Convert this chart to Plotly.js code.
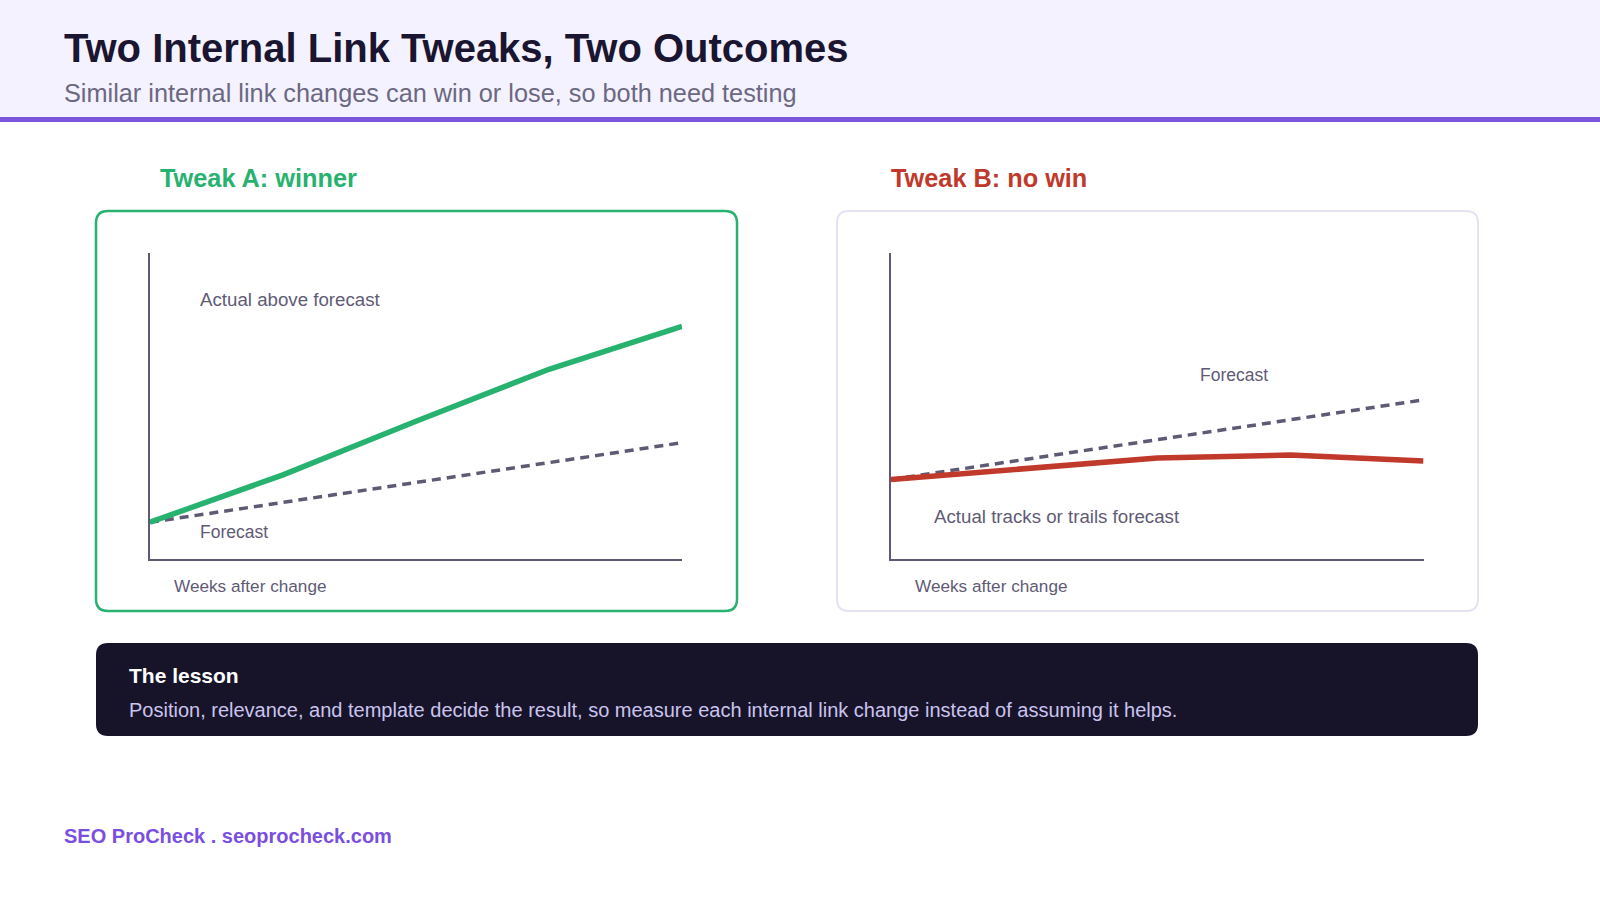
<!DOCTYPE html>
<html>
<head>
<meta charset="utf-8">
<script src="https://cdn.plot.ly/plotly-3.0.1.min.js"></script>
<style>
  html, body { margin: 0; padding: 0; background: #ffffff; }
  #chart { width: 1600px; height: 900px; }
</style>
</head>
<body>
<div id="chart"></div>
<script>
// ---- Data ----
const weeks = [0, 1, 2, 3, 4];
const tweakAForecast = [12, 18.5, 25, 31.5, 38];
const tweakAActual   = [12, 27.5, 45, 62, 76];
const tweakBForecast = [26, 32.5, 39, 45.5, 52];
const tweakBActual   = [26, 29.5, 33, 34, 32];

const chartTitle = "Two Internal Link Tweaks, Two Outcomes";
const chartSubtitle = "Similar internal link changes can win or lose, so both need testing";
const panelTitles = ["Tweak A: winner", "Tweak B: no win"];
const xAxisLabel = "Weeks after change";
const noteA = "Actual above forecast";
const noteB = "Actual tracks or trails forecast";
const forecastLabel = "Forecast";
const lessonTitle = "The lesson";
const lessonText = "Position, relevance, and template decide the result, so measure each internal link change instead of assuming it helps.";
const footerText = "SEO ProCheck . seoprocheck.com";

// ---- Styling ----
const W = 1600, H = 900;
const FONT = '"Liberation Sans", Arial, Helvetica, sans-serif';
const GREEN = '#27b26f';
const RED = '#c0392b';
const FORECAST = '#5e5a74';
const AXIS = '#5e5a72';
const MUTED = '#5f5b75';
const PURPLE = '#7b55de';

const px = x => x / W;
const py = y => 1 - y / H;

function roundedRect(x0, y0, x1, y1, r) {
  const X = v => px(v).toFixed(5), Y = v => py(v).toFixed(5);
  return 'M' + X(x0 + r) + ',' + Y(y0) +
    ' L' + X(x1 - r) + ',' + Y(y0) +
    ' Q' + X(x1) + ',' + Y(y0) + ' ' + X(x1) + ',' + Y(y0 + r) +
    ' L' + X(x1) + ',' + Y(y1 - r) +
    ' Q' + X(x1) + ',' + Y(y1) + ' ' + X(x1 - r) + ',' + Y(y1) +
    ' L' + X(x0 + r) + ',' + Y(y1) +
    ' Q' + X(x0) + ',' + Y(y1) + ' ' + X(x0) + ',' + Y(y1 - r) +
    ' L' + X(x0) + ',' + Y(y0 + r) +
    ' Q' + X(x0) + ',' + Y(y0) + ' ' + X(x0 + r) + ',' + Y(y0) + ' Z';
}

const traces = [
  { x: weeks, y: tweakAForecast, xaxis: 'x', yaxis: 'y', mode: 'lines', cliponaxis: false,
    line: { color: FORECAST, width: 3.5, dash: '9px,6px' }, hoverinfo: 'skip' },
  { x: weeks, y: tweakAActual, xaxis: 'x', yaxis: 'y', mode: 'lines', cliponaxis: false,
    line: { color: GREEN, width: 5.5 }, hoverinfo: 'skip' },
  { x: weeks, y: tweakBForecast, xaxis: 'x2', yaxis: 'y2', mode: 'lines', cliponaxis: false,
    line: { color: FORECAST, width: 3.5, dash: '9px,6px' }, hoverinfo: 'skip' },
  { x: weeks, y: tweakBActual, xaxis: 'x2', yaxis: 'y2', mode: 'lines', cliponaxis: false,
    line: { color: RED, width: 5.5 }, hoverinfo: 'skip' }
];

const axisCommon = {
  showgrid: false, zeroline: false, showticklabels: false, ticks: '',
  showline: true, linecolor: AXIS, linewidth: 2, fixedrange: true
};
const yDomain = [py(559), py(253)];

const shapes = [
  // header band
  { type: 'rect', xref: 'paper', yref: 'paper', x0: 0, x1: 1, y0: py(117), y1: 1,
    fillcolor: '#f4f2fe', line: { width: 0 }, layer: 'below' },
  { type: 'rect', xref: 'paper', yref: 'paper', x0: 0, x1: 1, y0: py(122), y1: py(117),
    fillcolor: PURPLE, line: { width: 0 }, layer: 'below' },
  // panel boxes
  { type: 'path', xref: 'paper', yref: 'paper', path: roundedRect(96, 211, 737, 611, 12),
    fillcolor: '#ffffff', line: { color: GREEN, width: 2.5 }, layer: 'below' },
  { type: 'path', xref: 'paper', yref: 'paper', path: roundedRect(837, 211, 1478, 611, 12),
    fillcolor: '#ffffff', line: { color: '#e5e2f3', width: 2 }, layer: 'below' },
  // lesson box
  { type: 'path', xref: 'paper', yref: 'paper', path: roundedRect(96, 643, 1478, 736, 12),
    fillcolor: '#17142a', line: { width: 0 }, layer: 'below' }
];

function txt(text, x, y, size, color, bold, extra) {
  return Object.assign({
    text: bold ? '<b>' + text + '</b>' : text,
    xref: 'paper', yref: 'paper', x: px(x), y: py(y),
    xanchor: 'left', yanchor: 'middle', showarrow: false,
    font: { family: FONT, size: size, color: color }
  }, extra || {});
}

const annotations = [
  txt(chartTitle, 62, 48, 40, '#1a1530', true),
  txt(chartSubtitle, 62, 93, 25.3, '#6b6882', false),
  txt(panelTitles[0], 158, 178, 25.3, GREEN, true),
  txt(panelTitles[1], 889, 178, 25.3, RED, true),
  txt(noteA, 198, 300, 18.7, MUTED, false),
  txt(forecastLabel, 198, 532, 17.5, MUTED, false),
  txt(xAxisLabel, 172, 586, 17.2, MUTED, false),
  txt(forecastLabel, 1198, 375, 17.5, MUTED, false),
  txt(noteB, 932, 516, 18.7, MUTED, false),
  txt(xAxisLabel, 913, 586, 17.2, MUTED, false),
  txt(lessonTitle, 127, 675, 21, '#ffffff', true),
  txt(lessonText, 127, 710, 20, '#cbc4ee', false),
  txt(footerText, 62, 836, 20, '#7a4fe0', true)
];

const layout = {
  width: W, height: H,
  margin: { l: 0, r: 0, t: 0, b: 0, pad: 0 },
  paper_bgcolor: '#ffffff', plot_bgcolor: 'rgba(0,0,0,0)',
  showlegend: false,
  xaxis: Object.assign({ domain: [px(150), px(682)], range: [0, 4], anchor: 'y' }, axisCommon),
  yaxis: Object.assign({ domain: yDomain, range: [0, 100], anchor: 'x' }, axisCommon),
  xaxis2: Object.assign({ domain: [px(891), px(1423.5)], range: [0, 4], anchor: 'y2' }, axisCommon),
  yaxis2: Object.assign({ domain: yDomain, range: [0, 100], anchor: 'x2' }, axisCommon),
  shapes: shapes,
  annotations: annotations,
  font: { family: FONT }
};

Plotly.newPlot('chart', traces, layout, { displayModeBar: false, staticPlot: true });
</script>
</body>
</html>
